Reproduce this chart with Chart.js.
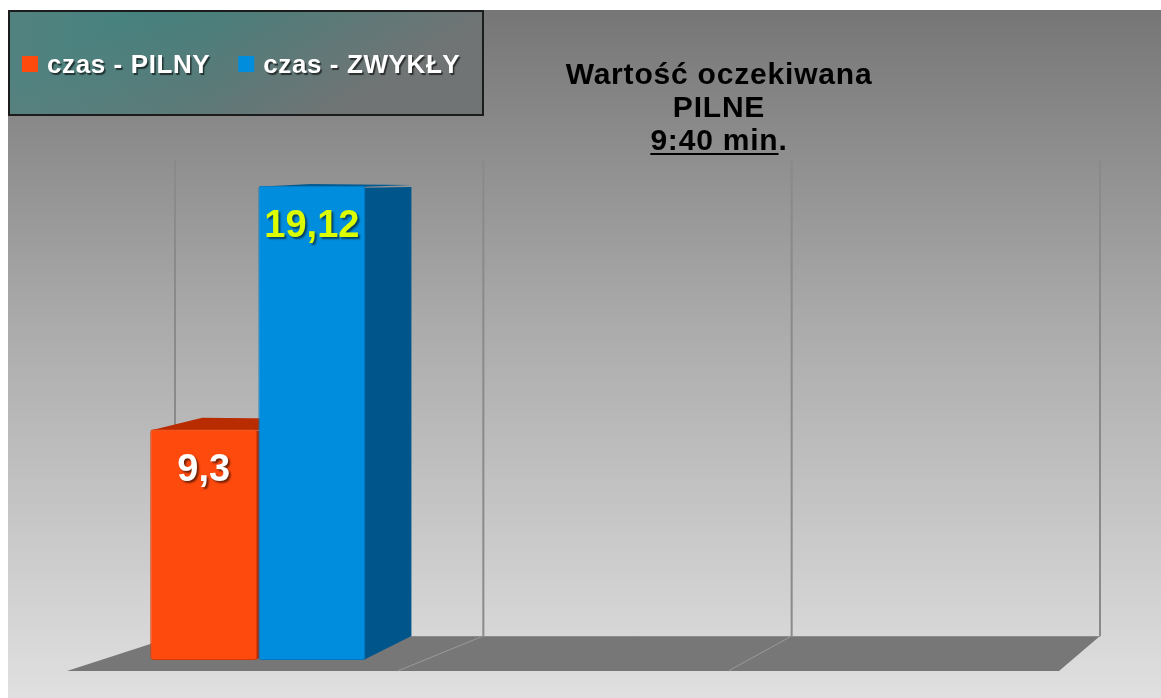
<!DOCTYPE html>
<html>
<head>
<meta charset="utf-8">
<script src="https://cdn.jsdelivr.net/npm/chart.js@4.4.1/dist/chart.umd.min.js"></script>
<style>
  html, body { margin: 0; padding: 0; background: #ffffff; }
  #wrap { width: 1161px; height: 698px; position: relative; }
</style>
</head>
<body>
<div id="wrap"><canvas id="c" width="1161" height="698"></canvas></div>
<script>
// ---- data ----
const categories = ['', '', ''];
const seriesNames = ['czas - PILNY', 'czas - ZWYKŁY'];
const pilnyValues = [9.3, null, null];
const zwyklyValues = [19.12, null, null];
const titleLines = ['Wartość oczekiwana', 'PILNE', '9:40 min.'];
const titleUnderlined = '9:40 min';
const yMin = 0;
const yMax = 20;

// ---- styles ----
const FONT = '"Liberation Sans", Arial, sans-serif';
const faces = [
  { front: '#ff4a0e', top: '#b82c00', side: '#b82c00', border: '#d83a06', label: '#ffffff' },
  { front: '#008ddd', top: '#005a92', side: '#00558b', border: '#0077c0', label: '#dcff00' }
];
const DEPTH_X = 46, DEPTH_Y = 20;

function fmt(v) { return String(v).replace('.', ','); }

const decorPlugin = {
  id: 'decor',
  beforeDraw(chart) {
    const ctx = chart.ctx, W = chart.width, H = chart.height;
    const a = chart.chartArea;
    ctx.save();
    ctx.fillStyle = '#ffffff';
    ctx.fillRect(0, 0, W, H);
    const g = ctx.createLinearGradient(0, 10, 0, H);
    g.addColorStop(0, '#767676');
    g.addColorStop(0.45, '#aaaaaa');
    g.addColorStop(1, '#e0e0e0');
    ctx.fillStyle = g;
    ctx.fillRect(8, 10, W - 8, H - 10);

    // floor (perspective) derived from chart area
    const fy = a.bottom + 11, by = a.bottom - 24;
    const fl = a.left - 28, fr = a.right - 13;
    const bl = a.left + 80, br = a.right + 28;
    ctx.beginPath();
    ctx.moveTo(fl, fy); ctx.lineTo(fr, fy); ctx.lineTo(br, by); ctx.lineTo(bl, by);
    ctx.closePath();
    ctx.fillStyle = '#777777';
    ctx.fill();

    const n = categories.length;
    ctx.strokeStyle = '#9a9a9a';
    ctx.lineWidth = 1;
    for (let i = 1; i < n; i++) {
      const xf = fl + i * (fr - fl) / n, xb = bl + i * (br - bl) / n;
      ctx.beginPath(); ctx.moveTo(xf, fy); ctx.lineTo(xb, by); ctx.stroke();
    }
    ctx.strokeStyle = '#8c8c8c';
    ctx.beginPath(); ctx.moveTo(bl, by + 0.5); ctx.lineTo(br, by + 0.5); ctx.stroke();
    ctx.strokeStyle = '#8a8a8a';
    ctx.lineWidth = 2;
    for (let i = 0; i <= n; i++) {
      const xb = bl + i * (br - bl) / n;
      ctx.beginPath(); ctx.moveTo(xb, a.top - 4); ctx.lineTo(xb, by); ctx.stroke();
    }
    ctx.restore();
  },
  beforeDatasetsDraw(chart) {
    const ctx = chart.ctx, a = chart.chartArea;
    ctx.save();
    chart.data.datasets.forEach((ds, di) => {
      const meta = chart.getDatasetMeta(di);
      meta.data.forEach((bar, i) => {
        const v = ds.data[i];
        if (v === null || v === undefined) return;
        const p = bar.getProps(['x', 'y', 'base', 'width'], true);
        const l = p.x - p.width / 2, r = p.x + p.width / 2;
        const dyTop = -DEPTH_Y * (p.y - a.top) / (a.bottom - a.top);
        const dyBase = -DEPTH_Y * (p.base - a.top) / (a.bottom - a.top);
        ctx.beginPath();
        ctx.moveTo(r - 2, p.y + 2);
        ctx.lineTo(r + DEPTH_X, p.y + dyTop + 2);
        ctx.lineTo(r + DEPTH_X, p.base + dyBase - 4);
        ctx.lineTo(r - 2, p.base);
        ctx.closePath();
        ctx.fillStyle = faces[di].side;
        ctx.fill();
        ctx.beginPath();
        ctx.moveTo(l + 1, p.y + 1);
        ctx.lineTo(r, p.y + 1);
        ctx.lineTo(r + DEPTH_X, p.y + dyTop);
        ctx.lineTo(l + DEPTH_X + 6, p.y + dyTop - 1);
        ctx.closePath();
        ctx.fillStyle = faces[di].top;
        ctx.fill();
      });
    });
    ctx.restore();
  },
  afterDatasetsDraw(chart) {
    const ctx = chart.ctx;
    ctx.save();
    ctx.font = 'bold 38px ' + FONT;
    ctx.textAlign = 'center';
    ctx.textBaseline = 'middle';
    chart.data.datasets.forEach((ds, di) => {
      const meta = chart.getDatasetMeta(di);
      meta.data.forEach((bar, i) => {
        const v = ds.data[i];
        if (v === null || v === undefined) return;
        const p = bar.getProps(['x', 'y'], true);
        ctx.shadowColor = 'rgba(0,0,0,0.55)';
        ctx.shadowOffsetX = 2; ctx.shadowOffsetY = 2; ctx.shadowBlur = 2;
        ctx.fillStyle = faces[di].label;
        ctx.fillText(fmt(v), p.x, p.y + 41);
      });
    });
    ctx.restore();
  },
  afterDraw(chart) {
    const ctx = chart.ctx;
    ctx.save();
    const lx = 8, ly = 10, lw = 476, lh = 106;
    const lg = ctx.createLinearGradient(lx + 120, ly, lx + 220, ly + lh + 60);
    lg.addColorStop(0, '#3e827e');
    lg.addColorStop(1, '#707474');
    ctx.fillStyle = lg;
    ctx.fillRect(lx, ly, lw, lh);
    const lg2 = ctx.createLinearGradient(lx, ly, lx + 200, ly);
    lg2.addColorStop(0, 'rgba(120,130,130,0.35)');
    lg2.addColorStop(1, 'rgba(120,130,130,0)');
    ctx.fillStyle = lg2;
    ctx.fillRect(lx, ly, lw, lh);
    ctx.strokeStyle = '#1c1c1c';
    ctx.lineWidth = 2;
    ctx.strokeRect(lx + 1, ly + 1, lw - 2, lh - 2);

    ctx.font = 'bold 26px ' + FONT;
    ctx.letterSpacing = '0.6px';
    ctx.textBaseline = 'alphabetic';
    ctx.textAlign = 'left';
    let x = 22;
    chart.data.datasets.forEach((ds, di) => {
      ctx.shadowColor = 'transparent';
      ctx.fillStyle = faces[di].front;
      ctx.fillRect(x, 56, 16, 16);
      ctx.shadowColor = 'rgba(0,0,0,0.6)';
      ctx.shadowOffsetX = 1.5; ctx.shadowOffsetY = 1.5; ctx.shadowBlur = 1;
      ctx.fillStyle = '#ffffff';
      ctx.fillText(ds.label, x + 25, 73);
      x += 25 + ctx.measureText(ds.label).width + 28;
    });
    ctx.shadowColor = 'transparent';

    ctx.font = 'bold 30px ' + FONT;
    ctx.letterSpacing = '0.8px';
    ctx.fillStyle = '#000000';
    ctx.textAlign = 'left';
    const cx = 719, baselines = [84, 117, 150];
    titleLines.forEach((t, i) => {
      const w = ctx.measureText(t).width;
      const sx = cx - w / 2;
      ctx.fillText(t, sx, baselines[i]);
      if (t.startsWith(titleUnderlined)) {
        const uw = ctx.measureText(titleUnderlined).width;
        ctx.fillRect(sx, baselines[i] + 3, uw, 2);
      }
    });
    ctx.restore();
  }
};

new Chart(document.getElementById('c'), {
  type: 'bar',
  data: {
    labels: categories,
    datasets: [
      { label: seriesNames[0], data: pilnyValues, backgroundColor: faces[0].front, borderColor: faces[0].border, borderWidth: 1, borderRadius: 3, borderSkipped: false },
      { label: seriesNames[1], data: zwyklyValues, backgroundColor: faces[1].front, borderColor: faces[1].border, borderWidth: 1, borderRadius: 3, borderSkipped: false }
    ]
  },
  options: {
    responsive: false,
    animation: false,
    devicePixelRatio: 1,
    layout: { padding: { left: 95, right: 89, top: 164, bottom: 38 } },
    datasets: { bar: { categoryPercentage: 0.664, barPercentage: 0.99 } },
    scales: {
      x: { display: false, stacked: false },
      y: { display: false, min: yMin, max: yMax }
    },
    plugins: {
      legend: { display: false },
      title: { display: false },
      tooltip: { enabled: false }
    }
  },
  plugins: [decorPlugin]
});
</script>
</body>
</html>
